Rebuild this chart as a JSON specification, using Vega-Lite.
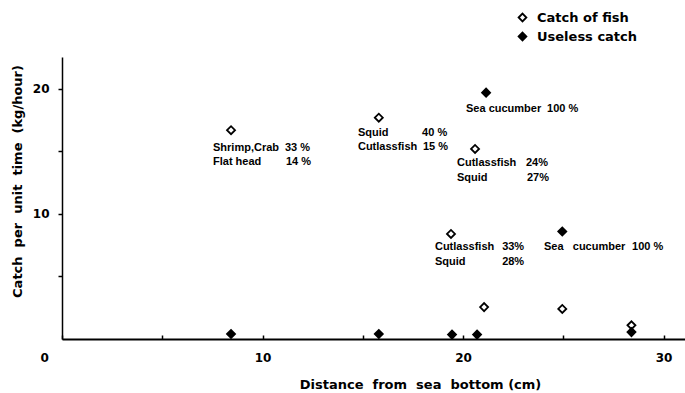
{
  "$schema": "https://vega.github.io/schema/vega-lite/v6.json",
  "width": 623,
  "height": 282,
  "autosize": {"type": "none"},
  "padding": {"left": 62, "top": 57, "right": 0, "bottom": 54},
  "background": "white",
  "config": {
    "view": {"stroke": null},
    "font": "DejaVu Sans",
    "axis": {"grid": false, "domainColor": "black", "tickColor": "black", "labelColor": "black", "titleColor": "black", "labelFont": "DejaVu Sans", "labelFontWeight": "bold", "titleFont": "DejaVu Sans", "titleFontWeight": "bold"}
  },
  "datasets": {
    "points": [
      {"dist": 8.43, "catch": 16.7, "type": "Catch of fish"},
      {"dist": 15.8, "catch": 17.7, "type": "Catch of fish"},
      {"dist": 20.6, "catch": 15.2, "type": "Catch of fish"},
      {"dist": 19.4, "catch": 8.4, "type": "Catch of fish"},
      {"dist": 21.05, "catch": 2.55, "type": "Catch of fish"},
      {"dist": 24.95, "catch": 2.4, "type": "Catch of fish"},
      {"dist": 28.4, "catch": 1.1, "type": "Catch of fish"},
      {"dist": 21.15, "catch": 19.7, "type": "Useless catch"},
      {"dist": 24.95, "catch": 8.6, "type": "Useless catch"},
      {"dist": 8.43, "catch": 0.4, "type": "Useless catch"},
      {"dist": 15.8, "catch": 0.4, "type": "Useless catch"},
      {"dist": 19.45, "catch": 0.35, "type": "Useless catch"},
      {"dist": 20.7, "catch": 0.35, "type": "Useless catch"},
      {"dist": 28.4, "catch": 0.55, "type": "Useless catch"}
    ],
    "notes": [
      {"x": 7.53, "y": 15.28, "label": "Shrimp,Crab"},
      {"x": 11.12, "y": 15.28, "label": "33 %"},
      {"x": 7.53, "y": 14.16, "label": "Flat head"},
      {"x": 11.17, "y": 14.16, "label": "14 %"},
      {"x": 14.76, "y": 16.48, "label": "Squid"},
      {"x": 17.96, "y": 16.48, "label": "40 %"},
      {"x": 14.76, "y": 15.36, "label": "Cutlassfish"},
      {"x": 18.0, "y": 15.36, "label": "15 %"},
      {"x": 20.15, "y": 18.4, "label": "Sea cucumber"},
      {"x": 24.19, "y": 18.4, "label": "100 %"},
      {"x": 19.7, "y": 14.08, "label": "Cutlassfish"},
      {"x": 23.14, "y": 14.08, "label": "24%"},
      {"x": 19.7, "y": 12.88, "label": "Squid"},
      {"x": 23.19, "y": 12.88, "label": "27%"},
      {"x": 18.6, "y": 7.36, "label": "Cutlassfish"},
      {"x": 21.95, "y": 7.36, "label": "33%"},
      {"x": 18.6, "y": 6.16, "label": "Squid"},
      {"x": 21.95, "y": 6.16, "label": "28%"},
      {"x": 24.04, "y": 7.36, "label": "Sea\u00a0\u00a0 cucumber"},
      {"x": 28.43, "y": 7.36, "label": "100 %"}
    ]
  },
  "layer": [
    {
      "data": {"name": "points"},
      "mark": {"type": "point", "shape": "diamond", "size": 64, "stroke": "black", "strokeWidth": 1.8, "opacity": 1, "filled": false},
      "encoding": {
        "x": {
          "field": "dist", "type": "quantitative",
          "scale": {"domain": [0, 31.07], "nice": false, "zero": false},
          "axis": {
            "title": "Distance\u00a0 from\u00a0 sea\u00a0 bottom (cm)",
            "titleFontSize": 13,
            "titleX": 358,
            "titleY": 45,
            "titleAlign": "center",
            "titleBaseline": "middle",
            "values": [0, 5, 10, 15, 20, 25, 30],
            "labelExpr": "datum.value % 10 == 0 ? datum.label : ''",
            "labelFontSize": 12,
            "labelPadding": 17,
            "labelOffset": {"condition": {"test": "datum.value == 0", "value": -22}, "value": 0},
            "tickSize": -4,
            "tickWidth": 1.5,
            "domainWidth": 2
          }
        },
        "y": {
          "field": "catch", "type": "quantitative",
          "scale": {"domain": [0, 22.55], "nice": false, "zero": false},
          "axis": {
            "title": "Catch\u00a0 per\u00a0 unit\u00a0 time\u00a0 (kg/hour)",
            "titleFontSize": 13,
            "titleX": -45,
            "titleY": 124,
            "titleAlign": "center",
            "titleBaseline": "middle",
            "titleAngle": -90,
            "values": [5, 10, 15, 20],
            "labelExpr": "datum.value % 10 == 0 ? datum.label : ''",
            "labelFontSize": 12,
            "labelPadding": 9,
            "tickSize": 4,
            "tickWidth": 1.5,
            "domainWidth": 1.5
          }
        },
        "fill": {
          "field": "type", "type": "nominal",
          "scale": {"domain": ["Catch of fish", "Useless catch"], "range": ["white", "black"]},
          "legend": {
            "title": null,
            "orient": "none",
            "legendX": 454,
            "legendY": -46,
            "symbolType": "diamond",
            "symbolSize": 60,
            "symbolStrokeColor": "black",
            "symbolStrokeWidth": 1.8,
            "labelFont": "DejaVu Sans",
            "labelFontWeight": "bold",
            "labelFontSize": 13,
            "labelColor": "black",
            "labelOffset": 8,
            "rowPadding": 4
          }
        }
      }
    },
    {
      "data": {"name": "notes"},
      "mark": {"type": "text", "align": "left", "baseline": "middle", "font": "Liberation Sans", "fontWeight": "bold", "fontSize": 11, "color": "black"},
      "encoding": {
        "x": {"field": "x", "type": "quantitative"},
        "y": {"field": "y", "type": "quantitative"},
        "text": {"field": "label", "type": "nominal"}
      }
    }
  ]
}
